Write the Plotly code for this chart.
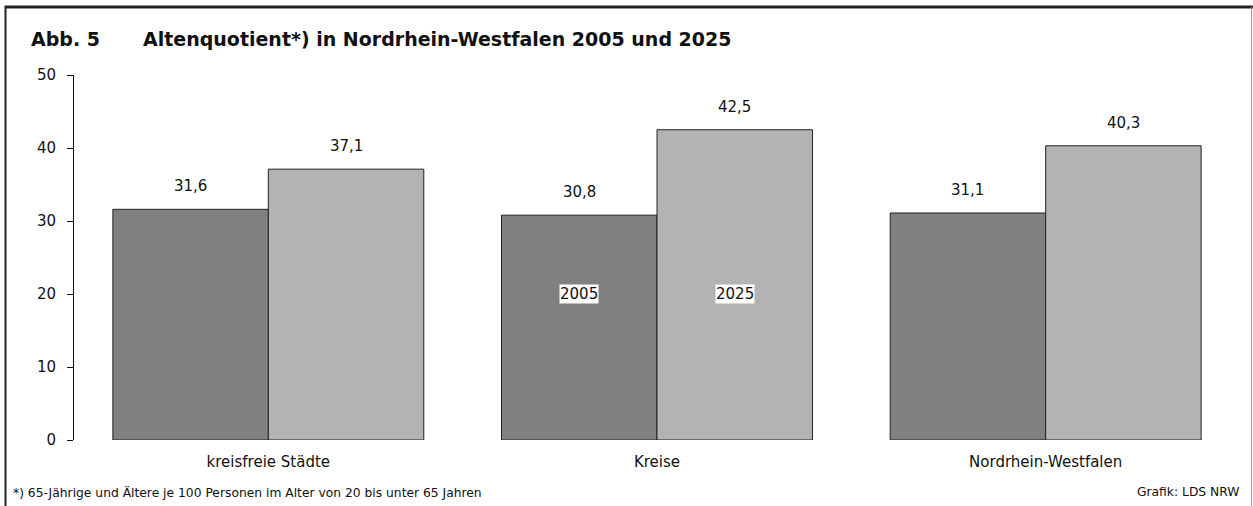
import plotly.graph_objects as go

categories = ["kreisfreie Städte", "Kreise", "Nordrhein-Westfalen"]
years = ["2005", "2025"]
values_2005 = [31.6, 30.8, 31.1]
values_2025 = [37.1, 42.5, 40.3]
colors = ["#808080", "#b3b3b3"]
y_ticks = [0, 10, 20, 30, 40, 50]

FONT = "DejaVu Sans"
W, H = 1253, 506
L, R, T, B = 74, 13, 75, 66
PW, PH = W - L - R, H - T - B

def px_x(px):
    return (px - L) / PW

def px_y(py):
    return (H - B - py) / PH

fig = go.Figure()
series = [values_2005, values_2025]
for i, (yr, vals) in enumerate(zip(years, series)):
    fig.add_trace(go.Bar(
        x=categories, y=vals, name=yr,
        marker=dict(color=colors[i], line=dict(color="#222222", width=1)),
        hoverinfo="x+y",
    ))

annotations = []
shift = PW / len(categories) * 0.8 / 4  # half of a single bar's width offset
for i, vals in enumerate(series):
    sx = -shift if i == 0 else shift
    for c, v in zip(categories, vals):
        annotations.append(dict(
            x=c, y=v, xref="x", yref="y", xshift=sx, yshift=23,
            text=f"{v:.1f}".replace(".", ","), showarrow=False,
            font=dict(family=FONT, size=15, color="#111111"),
        ))
    annotations.append(dict(
        x=categories[1], y=20, xref="x", yref="y", xshift=sx,
        text=years[i], showarrow=False, bgcolor="white", borderpad=0,
        font=dict(family=FONT, size=15, color="#111111"),
    ))

annotations += [
    dict(x=px_x(29), y=px_y(39), xref="paper", yref="paper", xanchor="left",
         yanchor="middle", text="<b>Abb. 5</b>", showarrow=False,
         font=dict(family=FONT, size=19, color="#111111")),
    dict(x=px_x(141), y=px_y(39), xref="paper", yref="paper", xanchor="left",
         yanchor="middle", text="<b>Altenquotient*) in Nordrhein-Westfalen 2005 und 2025</b>",
         showarrow=False, font=dict(family=FONT, size=19, color="#111111")),
    dict(x=px_x(11), y=px_y(492), xref="paper", yref="paper", xanchor="left",
         yanchor="middle",
         text="*) 65-Jährige und Ältere je 100 Personen im Alter von 20 bis unter 65 Jahren",
         showarrow=False, font=dict(family=FONT, size=12.3, color="#111111")),
    dict(x=px_x(1241), y=px_y(492), xref="paper", yref="paper", xanchor="right",
         yanchor="middle", text="Grafik: LDS NRW",
         showarrow=False, font=dict(family=FONT, size=12.3, color="#111111")),
]

shapes = [
    dict(type="line", xref="paper", yref="paper", x0=px_x(5.5), x1=px_x(5.5),
         y0=px_y(6), y1=px_y(506), line=dict(color="#222222", width=2)),
    dict(type="line", xref="paper", yref="paper", x0=px_x(5), x1=px_x(1253),
         y0=px_y(7), y1=px_y(7), line=dict(color="#222222", width=3)),
    dict(type="line", xref="paper", yref="paper", x0=px_x(1251.5), x1=px_x(1251.5),
         y0=px_y(7), y1=px_y(506), line=dict(color="#999999", width=1)),
]

fig.update_layout(
    width=W, height=H, margin=dict(l=L, r=R, t=T, b=B),
    paper_bgcolor="white", plot_bgcolor="white",
    barmode="group", bargap=0.2, bargroupgap=0,
    showlegend=False,
    annotations=annotations, shapes=shapes,
    font=dict(family=FONT, size=15, color="#111111"),
    xaxis=dict(showline=False, showgrid=False, ticks="", zeroline=False,
               tickfont=dict(family=FONT, size=15), range=[-0.5, 2.5],
               ticklabelstandoff=11),
    yaxis=dict(range=[0, 50], tickvals=y_ticks, showline=True, linecolor="#111111",
               linewidth=1, ticks="outside", ticklen=6, tickcolor="#111111",
               showgrid=False, zeroline=False, ticklabelstandoff=8,
               tickfont=dict(family=FONT, size=15)),
)

fig.write_html(
    "out.html",
    config={"displayModeBar": False},
    post_script="document.body.style.margin='0';document.body.style.overflow='hidden';",
)
